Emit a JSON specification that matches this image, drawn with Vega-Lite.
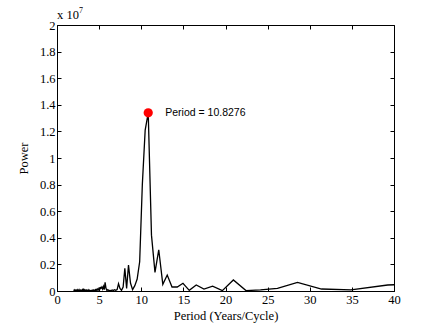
{
  "$schema": "https://vega.github.io/schema/vega-lite/v6.json",
  "width": 337,
  "height": 266,
  "autosize": {"type": "none"},
  "padding": {"left": 57, "top": 25, "right": 42, "bottom": 37},
  "background": "white",
  "view": {"stroke": "black", "strokeWidth": 1},
  "config": {
    "axis": {
      "grid": false,
      "domainColor": "black",
      "tickColor": "black",
      "labelColor": "black",
      "titleColor": "black",
      "labelFont": "Liberation Serif",
      "labelFontSize": 12.5,
      "titleFont": "Liberation Serif",
      "titleFontSize": 12.5,
      "titleFontWeight": "normal",
      "tickSize": -4,
      "labelPadding": 6,
      "labelFlush": false,
      "labelOverlap": false
    }
  },
  "data": {
    "values": [
      {"period": 2.0, "power": 0.001}, {"period": 2.0128, "power": 0.003}, {"period": 2.0258, "power": 0.001}, {"period": 2.039, "power": 0.002},
      {"period": 2.0523, "power": 0.004}, {"period": 2.0658, "power": 0.001}, {"period": 2.0795, "power": 0.002}, {"period": 2.0933, "power": 0.003},
      {"period": 2.1074, "power": 0.001}, {"period": 2.1216, "power": 0.002}, {"period": 2.1361, "power": 0.001}, {"period": 2.1507, "power": 0.003},
      {"period": 2.1655, "power": 0.002}, {"period": 2.1806, "power": 0.001}, {"period": 2.1958, "power": 0.004}, {"period": 2.2113, "power": 0.002},
      {"period": 2.227, "power": 0.001}, {"period": 2.2429, "power": 0.003}, {"period": 2.259, "power": 0.002}, {"period": 2.2754, "power": 0.001},
      {"period": 2.292, "power": 0.002}, {"period": 2.3088, "power": 0.004}, {"period": 2.3259, "power": 0.001}, {"period": 2.3433, "power": 0.002},
      {"period": 2.3609, "power": 0.003}, {"period": 2.3788, "power": 0.001}, {"period": 2.3969, "power": 0.002}, {"period": 2.4154, "power": 0.005},
      {"period": 2.4341, "power": 0.001}, {"period": 2.4531, "power": 0.002}, {"period": 2.4724, "power": 0.003}, {"period": 2.4921, "power": 0.001},
      {"period": 2.512, "power": 0.004}, {"period": 2.5323, "power": 0.002}, {"period": 2.5528, "power": 0.001}, {"period": 2.5738, "power": 0.003},
      {"period": 2.595, "power": 0.002}, {"period": 2.6167, "power": 0.006}, {"period": 2.6387, "power": 0.001}, {"period": 2.661, "power": 0.003},
      {"period": 2.6838, "power": 0.002}, {"period": 2.7069, "power": 0.001}, {"period": 2.7304, "power": 0.004}, {"period": 2.7544, "power": 0.002},
      {"period": 2.7788, "power": 0.003}, {"period": 2.8036, "power": 0.001}, {"period": 2.8288, "power": 0.005}, {"period": 2.8545, "power": 0.002},
      {"period": 2.8807, "power": 0.003}, {"period": 2.9074, "power": 0.001}, {"period": 2.9346, "power": 0.004}, {"period": 2.9623, "power": 0.002},
      {"period": 2.9905, "power": 0.006}, {"period": 3.0192, "power": 0.002}, {"period": 3.0485, "power": 0.003}, {"period": 3.0784, "power": 0.008},
      {"period": 3.1089, "power": 0.002}, {"period": 3.14, "power": 0.004}, {"period": 3.1717, "power": 0.009}, {"period": 3.2041, "power": 0.003},
      {"period": 3.2371, "power": 0.005}, {"period": 3.2708, "power": 0.002}, {"period": 3.3053, "power": 0.007}, {"period": 3.3404, "power": 0.003},
      {"period": 3.3763, "power": 0.004}, {"period": 3.413, "power": 0.001}, {"period": 3.4505, "power": 0.005}, {"period": 3.4889, "power": 0.002},
      {"period": 3.5281, "power": 0.006}, {"period": 3.5682, "power": 0.003}, {"period": 3.6092, "power": 0.004}, {"period": 3.6512, "power": 0.002},
      {"period": 3.6941, "power": 0.008}, {"period": 3.7381, "power": 0.003}, {"period": 3.7831, "power": 0.005}, {"period": 3.8293, "power": 0.002},
      {"period": 3.8765, "power": 0.006}, {"period": 3.925, "power": 0.003}, {"period": 3.9747, "power": 0.002}, {"period": 4.0256, "power": 0.004},
      {"period": 4.0779, "power": 0.001}, {"period": 4.1316, "power": 0.005}, {"period": 4.1867, "power": 0.002}, {"period": 4.2432, "power": 0.006},
      {"period": 4.3014, "power": 0.003}, {"period": 4.3611, "power": 0.008}, {"period": 4.4225, "power": 0.004}, {"period": 4.4857, "power": 0.003},
      {"period": 4.5507, "power": 0.01}, {"period": 4.6176, "power": 0.004}, {"period": 4.6866, "power": 0.012}, {"period": 4.7576, "power": 0.005},
      {"period": 4.8308, "power": 0.015}, {"period": 4.9063, "power": 0.008}, {"period": 4.9841, "power": 0.02}, {"period": 5.0645, "power": 0.01},
      {"period": 5.1475, "power": 0.025}, {"period": 5.2333, "power": 0.02}, {"period": 5.322, "power": 0.03}, {"period": 5.4138, "power": 0.015},
      {"period": 5.5088, "power": 0.035}, {"period": 5.6071, "power": 0.01}, {"period": 5.7091, "power": 0.065}, {"period": 5.8148, "power": 0.02},
      {"period": 5.9245, "power": 0.004}, {"period": 6.0385, "power": 0.01}, {"period": 6.1569, "power": 0.003}, {"period": 6.28, "power": 0.005},
      {"period": 6.4082, "power": 0.002}, {"period": 6.5417, "power": 0.008}, {"period": 6.6809, "power": 0.003}, {"period": 6.8261, "power": 0.01},
      {"period": 6.9778, "power": 0.005}, {"period": 7.1364, "power": 0.01}, {"period": 7.3023, "power": 0.055}, {"period": 7.4762, "power": 0.02},
      {"period": 7.6585, "power": 0.005}, {"period": 7.85, "power": 0.03}, {"period": 8.0513, "power": 0.17}, {"period": 8.2632, "power": 0.02},
      {"period": 8.4865, "power": 0.195}, {"period": 8.7222, "power": 0.06}, {"period": 8.9714, "power": 0.01}, {"period": 9.2353, "power": 0.04},
      {"period": 9.5152, "power": 0.09}, {"period": 9.8125, "power": 0.22}, {"period": 10.129, "power": 0.8}, {"period": 10.4667, "power": 1.21},
      {"period": 10.8276, "power": 1.34}, {"period": 11.2143, "power": 0.42}, {"period": 11.6296, "power": 0.14}, {"period": 12.0769, "power": 0.31},
      {"period": 12.56, "power": 0.05}, {"period": 13.0833, "power": 0.12}, {"period": 13.6522, "power": 0.03}, {"period": 14.2727, "power": 0.03},
      {"period": 14.9524, "power": 0.058}, {"period": 15.7, "power": 0.005}, {"period": 16.5263, "power": 0.045}, {"period": 17.4444, "power": 0.015},
      {"period": 18.4706, "power": 0.037}, {"period": 19.625, "power": 0.003}, {"period": 20.9333, "power": 0.083}, {"period": 22.4286, "power": 0.003},
      {"period": 24.1538, "power": 0.008}, {"period": 26.1667, "power": 0.02}, {"period": 28.5455, "power": 0.065}, {"period": 31.4, "power": 0.015},
      {"period": 34.8889, "power": 0.008}, {"period": 39.25, "power": 0.045}, {"period": 44.8571, "power": 0.06}
    ]
  },
  "resolve": {"axis": {"x": "independent", "y": "independent"}},
  "layer": [
    {
      "mark": {"type": "line", "color": "black", "strokeWidth": 1.3, "clip": true},
      "encoding": {
        "x": {"field": "period", "type": "quantitative", "scale": {"domain": [0, 40], "nice": false, "zero": false},
              "axis": {"orient": "bottom", "values": [0, 5, 10, 15, 20, 25, 30, 35, 40], "title": "Period (Years/Cycle)", "titlePadding": 4}},
        "y": {"field": "power", "type": "quantitative", "scale": {"domain": [0, 2], "nice": false},
              "axis": {"orient": "left", "values": [0, 0.2, 0.4, 0.6, 0.8, 1, 1.2, 1.4, 1.6, 1.8, 2], "format": "~g", "title": "Power", "titlePadding": 9}}
      }
    },
    {
      "data": {"values": [{"period": 10.8276, "power": 1.34, "label": "Period = 10.8276"}]},
      "mark": {"type": "circle", "color": "#ff0000", "opacity": 1, "size": 85},
      "encoding": {
        "x": {"field": "period", "type": "quantitative",
              "axis": {"orient": "top", "values": [0, 5, 10, 15, 20, 25, 30, 35, 40], "labels": false, "title": null, "domain": false}},
        "y": {"field": "power", "type": "quantitative",
              "axis": {"orient": "right", "values": [0, 0.2, 0.4, 0.6, 0.8, 1, 1.2, 1.4, 1.6, 1.8, 2], "labels": false, "title": null, "domain": false}}
      }
    },
    {
      "data": {"values": [{"period": 10.8276, "power": 1.34, "label": "Period = 10.8276"}]},
      "mark": {"type": "text", "align": "left", "baseline": "middle", "dx": 17, "font": "Liberation Sans", "fontSize": 10.5, "color": "black"},
      "encoding": {
        "x": {"field": "period", "type": "quantitative", "axis": null},
        "y": {"field": "power", "type": "quantitative", "axis": null},
        "text": {"field": "label"}
      }
    },
    {
      "data": {"values": [{"period": 0, "power": 2, "label": "x 10"}]},
      "mark": {"type": "text", "align": "left", "baseline": "alphabetic", "dx": 0, "dy": -6, "font": "Liberation Serif", "fontSize": 12.5, "color": "black"},
      "encoding": {
        "x": {"field": "period", "type": "quantitative", "axis": null},
        "y": {"field": "power", "type": "quantitative", "axis": null},
        "text": {"field": "label"}
      }
    },
    {
      "data": {"values": [{"period": 0, "power": 2, "label": "7"}]},
      "mark": {"type": "text", "align": "left", "baseline": "alphabetic", "dx": 22, "dy": -12, "font": "Liberation Serif", "fontSize": 8, "color": "black"},
      "encoding": {
        "x": {"field": "period", "type": "quantitative", "axis": null},
        "y": {"field": "power", "type": "quantitative", "axis": null},
        "text": {"field": "label"}
      }
    }
  ]
}
